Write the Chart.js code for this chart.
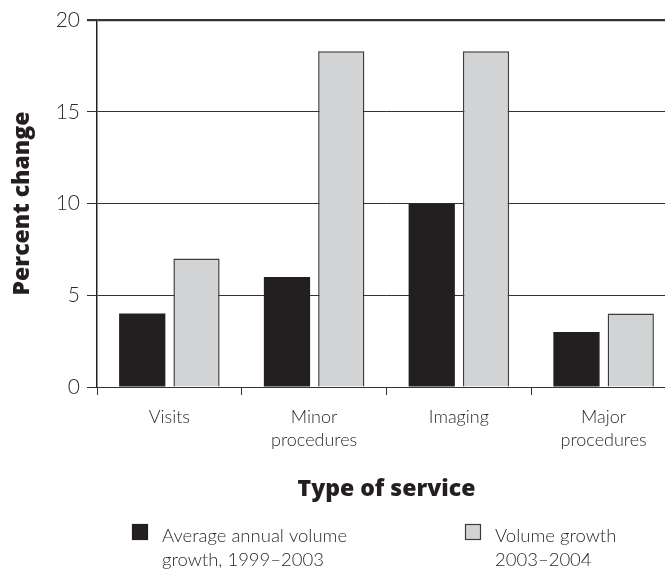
<!DOCTYPE html>
<html>
<head>
<meta charset="utf-8">
<script src="https://cdn.jsdelivr.net/npm/chart.js@4.4.1/dist/chart.umd.min.js"></script>
<style>
  html, body { margin: 0; padding: 0; overflow: hidden; background: #fff; }
  canvas { display: block; }
</style>
</head>
<body>
<canvas id="serviceChart" width="676" height="571"></canvas>
<script>
const categories = [['Visits'], ['Minor', 'procedures'], ['Imaging'], ['Major', 'procedures']];
const avgAnnualGrowth = [4, 6, 10, 3];
const growth2003to2004 = [7, 18.3, 18.3, 4];
const seriesNames = [['Average annual volume', 'growth, 1999\u20132003'], ['Volume growth', '2003\u20132004']];
const yTicks = [0, 5, 10, 15, 20];

const darkFill = '#231f20';
const lightFill = '#d1d3d4';
const lineColor = '#333333';
const lightFont = "Lato, 'Open Sans', sans-serif";
const boldFont = "'Open Sans', Lato, sans-serif";

// legend drawn by hand, the stock legend can't do two-line labels
const bottomLegend = {
    id: 'bottomLegend',
    afterDraw(chart) {
        const ctx = chart.ctx;
        const items = [
            { x: 132, fill: darkFill, border: darkFill },
            { x: 465, fill: lightFill, border: '#3c3c3c' }
        ];
        ctx.save();
        ctx.textAlign = 'left';
        ctx.textBaseline = 'alphabetic';
        ctx.font = "300 18.5px " + lightFont;
        items.forEach((it, i) => {
            ctx.fillStyle = it.fill;
            ctx.fillRect(it.x, 524, 16, 16);
            ctx.strokeStyle = it.border;
            ctx.lineWidth = 1.2;
            ctx.strokeRect(it.x + 0.5, 524.5, 15, 15);
            ctx.fillStyle = '#2a2a2a';
            seriesNames[i].forEach((line, j) => {
                ctx.fillText(line, it.x + 30, 542 + j * 24);
            });
        });
        ctx.restore();
    }
};

new Chart(document.getElementById('serviceChart'), {
    type: 'bar',
    data: {
        labels: categories,
        datasets: [{
            label: seriesNames[0].join(' '),
            data: avgAnnualGrowth,
            backgroundColor: darkFill,
            borderWidth: 0
        }, {
            label: seriesNames[1].join(' '),
            data: growth2003to2004,
            backgroundColor: lightFill,
            borderColor: '#3c3c3c',
            borderWidth: 1.5
        }]
    },
    options: {
        responsive: false,
        animation: false,
        categoryPercentage: 0.75,
        barPercentage: 0.852,
        layout: { padding: { top: 20, right: 0, bottom: 64, left: 0 } },
        plugins: {
            legend: { display: false },
            tooltip: { enabled: false }
        },
        scales: {
            x: {
                afterFit(scale) { scale.height = 120; },
                grid: {
                    drawOnChartArea: false,
                    drawTicks: true,
                    tickLength: 8,
                    color: lineColor,
                    offset: true
                },
                border: { display: false },
                ticks: {
                    color: '#2a2a2a',
                    padding: 10,
                    maxRotation: 0,
                    font: { family: lightFont, size: 18, weight: '300', lineHeight: 1.3 }
                },
                title: {
                    display: true,
                    text: 'Type of service',
                    color: '#231f20',
                    padding: { top: 0, bottom: 4 },
                    font: { family: boldFont, size: 23, weight: '800' }
                }
            },
            y: {
                min: 0,
                max: 20,
                afterFit(scale) { scale.width = 97; },
                afterBuildTicks(scale) { scale.ticks = yTicks.map(v => ({ value: v })); },
                grid: {
                    color: lineColor,
                    lineWidth: ctx => ctx.tick && ctx.tick.value === 20 ? 2.2 : 1,
                    tickLength: 10
                },
                border: { display: true, color: '#222', width: 1.5 },
                ticks: {
                    color: '#2a2a2a',
                    padding: 7,
                    font: { family: lightFont, size: 21, weight: '300' }
                },
                title: {
                    display: true,
                    text: 'Percent change',
                    color: '#231f20',
                    padding: { top: 9, bottom: 0 },
                    font: { family: boldFont, size: 23, weight: '800' }
                }
            }
        }
    },
    plugins: [bottomLegend]
});
</script>
</body>
</html>
